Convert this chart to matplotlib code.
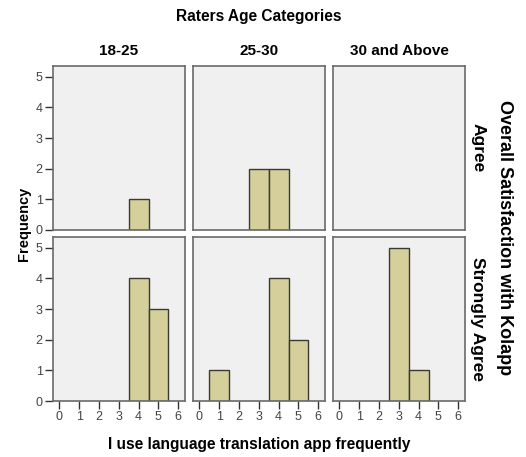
import matplotlib
matplotlib.use("Agg")
import matplotlib.pyplot as plt

plt.rcParams['font.family'] = ['Liberation Sans', 'DejaVu Sans']

age_groups = ["18-25", "25-30", "30 and Above"]
satisfaction = ["Agree", "Strongly Agree"]
x_values = [0, 1, 2, 3, 4, 5, 6]
# frequencies per value 0..6
freq_agree = [
    [0, 0, 0, 0, 1, 0, 0],
    [0, 0, 0, 2, 2, 0, 0],
    [0, 0, 0, 0, 0, 0, 0],
]
freq_strongly = [
    [0, 0, 0, 0, 4, 3, 0],
    [0, 1, 0, 0, 4, 2, 0],
    [0, 0, 0, 5, 1, 0, 0],
]
y_ticks = [0, 1, 2, 3, 4, 5]

W, H = 526, 457
fig = plt.figure(figsize=(W / 100, H / 100), dpi=100)

col_x = [(53, 185), (193, 325), (333, 465)]
row_y = [(66, 230), (237, 401)]

bar_color = "#d4cf9b"
edge = "#3a3a30"
bg = "#f0f0f0"

data_rows = [freq_agree, freq_strongly]
for r in range(2):
    for c in range(3):
        x0, x1 = col_x[c]
        y0, y1 = row_y[r]
        ax = fig.add_axes([x0 / W, 1 - y1 / H, (x1 - x0) / W, (y1 - y0) / H])
        ax.set_facecolor(bg)
        vals = data_rows[r][c]
        xs = [x for x, v in zip(x_values, vals) if v > 0]
        vs = [v for v in vals if v > 0]
        ax.bar(xs, vs, width=1.0, color=bar_color, edgecolor=edge, linewidth=1.0)
        ax.set_xlim(-0.32, 6.34)
        ax.set_ylim(0, 5.35)
        for s in ax.spines.values():
            s.set_color("#6a6a6a")
            s.set_linewidth(1.2)
        ax.tick_params(direction="out", length=5.5, width=1, color="#333333",
                       labelsize=9, labelcolor="#444444", pad=2)
        if c == 0:
            ax.set_yticks(y_ticks)
        else:
            ax.set_yticks([])
        if r == 1:
            ax.set_xticks(x_values)
        else:
            ax.set_xticks([])
        if r == 0:
            ax.text(0.5, 1 - (51 - y0) / (y1 - y0), age_groups[c],
                    transform=ax.transAxes, ha="center", va="center",
                    fontsize=11, fontweight="bold")
        if c == 2:
            ax.text(478 / W, 1 - ((y0 + y1) / 2) / H, satisfaction[r],
                    transform=fig.transFigure, rotation=-90, ha="center",
                    va="center", fontsize=12.5, fontweight="bold")

fig.text(259 / W, 1 - 16 / H, "Raters Age Categories", ha="center", va="center",
         fontsize=11.2, fontweight="bold")
fig.text(24 / W, 1 - 224 / H, "Frequency", ha="center", va="center", rotation=90,
         fontsize=10.5, fontweight="bold")
fig.text(505 / W, 1 - 238 / H, "Overall Satisfaction with Kolapp", ha="center",
         va="center", rotation=-90, fontsize=13, fontweight="bold")
fig.text(259 / W, 1 - 444 / H, "I use language translation app frequently",
         ha="center", va="center", fontsize=11.2, fontweight="bold")

fig.savefig("out.png", dpi=100, facecolor="white")
